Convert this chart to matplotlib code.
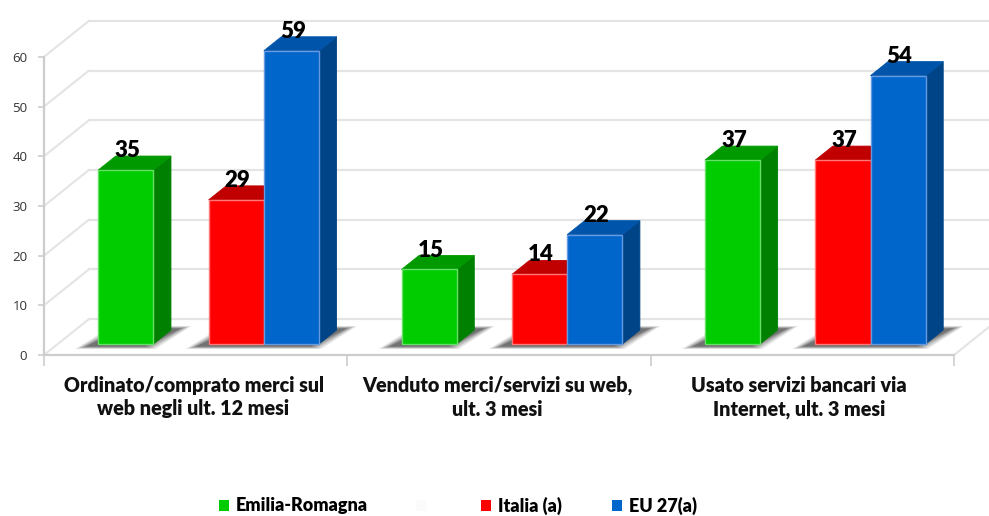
import matplotlib
matplotlib.use("Agg")
import matplotlib.pyplot as plt
from matplotlib.patches import Polygon, Patch

plt.rcParams['font.family'] = ['Lato', 'DejaVu Sans']

categories = ["Ordinato/comprato merci sul\nweb negli ult. 12 mesi",
              "Venduto merci/servizi su web,\nult. 3 mesi",
              "Usato servizi bancari via\nInternet, ult. 3 mesi"]
emilia = [35, 15, 37]
italia = [29, 14, 37]
eu27 = [59, 22, 54]
yticks = [0, 10, 20, 30, 40, 50, 60]

W, H = 989, 516
fig = plt.figure(figsize=(W/100, H/100), dpi=100, facecolor='white')
X0, Y0 = 44, 355
PXX = 303.33   # pixels per category
PXY = 4.97     # pixels per value unit
ax = fig.add_axes([X0/W, (H-Y0)/H, (W-X0)/W, Y0/H])
ax.set_xlim(-0.5, (W-X0)/PXX-0.5)
ax.set_ylim(0, Y0/PXY)
ax.patch.set_visible(False)
for s in ('top', 'right'):
    ax.spines[s].set_visible(False)

def dx(p): return p/PXX
def dy(p): return p/PXY

AXC = '#cdcdcd'
GRID = '#e4e4e4'
for s in ('left', 'bottom'):
    ax.spines[s].set_color(AXC)
    ax.spines[s].set_linewidth(1.6)
ax.spines['left'].set_bounds(0, 60)
ax.spines['bottom'].set_bounds(-0.5, 2.5)

# wall and floor
WX, WY = dx(45), dy(36)
for v in yticks:
    ax.plot([-0.5, -0.5+WX], [v, v+WY], color=GRID, lw=1.5, zorder=1, solid_capstyle='round')
    ax.plot([-0.5+WX, 2.5+WX], [v+WY, v+WY], color=GRID, lw=1.6, zorder=1)
ax.plot([2.5, 2.5+WX], [0, WY], color=GRID, lw=1.5, zorder=1, clip_on=True)

ax.set_yticks(yticks)
ax.tick_params(axis='y', length=4, width=1.2, color=AXC, pad=8, labelsize=9.5, labelcolor='#333333')
for t in ax.get_yticklabels():
    t.set_fontfamily('Open Sans')
ax.set_xticks([-0.5, 0.5, 1.5, 2.5])
ax.set_xticklabels([])
ax.tick_params(axis='x', length=8, width=1.2, color=AXC)
ax.set_xticks([-0.007, 0.995, 1.99], labels=categories, minor=True)
ax.tick_params(axis='x', which='minor', length=0, pad=15, labelsize=14.2)
for t in ax.get_xticklabels(minor=True):
    t.set_fontweight('heavy')
    t.set_linespacing(1.27)
    t.set_color('#111111')

# bars (four slots: the second series of the chart is empty)
SLOT = dx(55.2)
SHIFT = dx(13)
BASE = dy(11)
DX, DY = dx(17.5), dy(14)
series = [(emilia, 0, '#00CC00', '#008000', '#009900', '#66E066'),
          (italia, 2, '#FF0000', '#C00000', '#C00000', '#FF7777'),
          (eu27, 3, '#0066CC', '#004488', '#0055AA', '#6699DD')]

def shadow(xl, xr):
    for k, a in ((0, .12), (2, .16), (4, .20), (6, .24), (8, .30)):
        e = dx(k*1.3)
        f = dy(k*.3)
        ax.add_patch(Polygon([(xl-dx(23)+e, BASE-dy(5)+f), (xr+dx(2)-e, BASE-dy(5)+f),
                              (xr+dx(38)-e, BASE+dy(18)-f), (xl+dx(14)+e, BASE+dy(18)-f)],
                             closed=True, fc='#333333', ec='none', alpha=a, zorder=2))

for i in range(3):
    c = i + SHIFT
    shadow(c-2*SLOT, c-SLOT)
    shadow(c, c+2*SLOT)

for z, (vals, slot, front, side, top, edge) in enumerate(series):
    for i, v in enumerate(vals):
        x = i + SHIFT + (slot-1.5)*SLOT
        xl, xr = x-SLOT/2, x+SLOT/2
        t = BASE + v
        zo = 3 + z
        ax.add_patch(Polygon([(xr, BASE), (xr+DX, BASE+DY), (xr+DX, t+DY), (xr, t)],
                             closed=True, fc=side, ec=side, lw=.6, zorder=zo))
        ax.add_patch(Polygon([(xl, t), (xl+DX, t+DY), (xr+DX, t+DY), (xr, t)],
                             closed=True, fc=top, ec=top, lw=.6, zorder=zo))
        ax.bar(x, v, width=SLOT, bottom=BASE, color=front, edgecolor=edge, linewidth=1.0, zorder=zo+.1)
        ax.annotate(str(v), (x, t), xytext=(1, 14), textcoords='offset points', ha='center', va='center',
                    fontsize=16, fontweight='heavy', color='black', zorder=20)

# legend: uneven spacing in the original, so each entry is anchored on its own
legend_labels = ['Emilia-Romagna', '', 'Italia (a)', 'EU 27(a)']
legend_colors = ['#00CC00', '#FBFBFB', '#FF0000', '#0066CC']
legend_x = [219, 416, 481, 612]
for lab, col, px in zip(legend_labels, legend_colors, legend_x):
    fig.legend(handles=[Patch(fc=col, ec='none', label=lab)], loc='center left',
               bbox_to_anchor=(px/W, (H-506)/H), frameon=False,
               borderpad=0, borderaxespad=0, handlelength=0.56, handleheight=0.56,
               handletextpad=0.36, prop={'weight': 'heavy', 'size': 13})

fig.savefig('out.png', dpi=100)
